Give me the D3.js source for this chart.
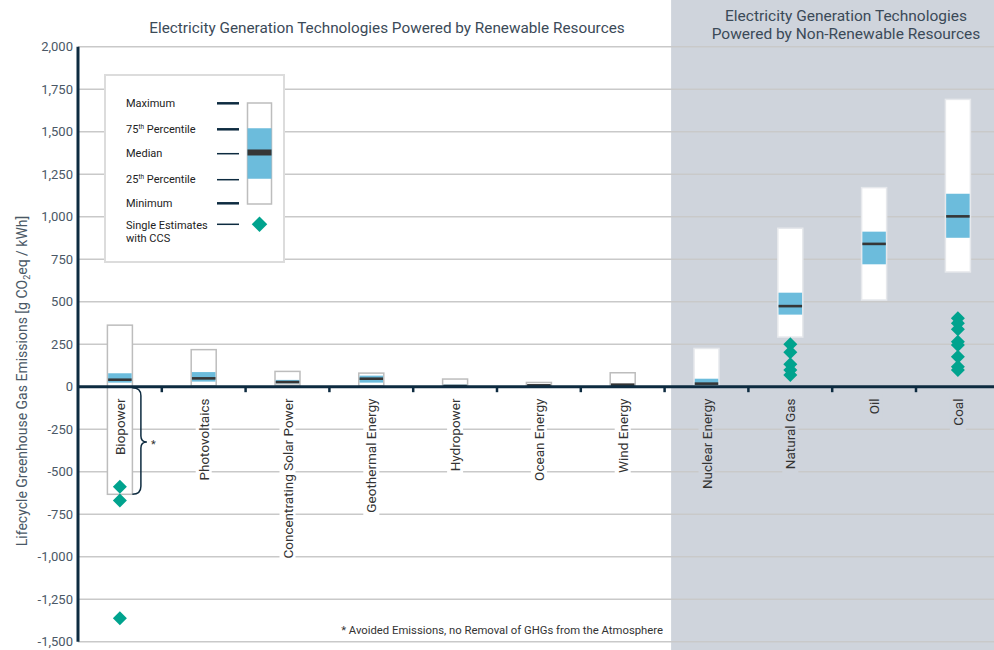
<!DOCTYPE html>
<html>
<head>
<meta charset="utf-8">
<script src="https://cdn.jsdelivr.net/npm/d3@7"></script>
<style>
  html, body { margin: 0; padding: 0; background: #fff; }
  svg { display: block; font-family: Roboto, "Open Sans", sans-serif; }
</style>
</head>
<body>
<svg id="chart" width="994" height="650"></svg>
<script>
// ---------- DATA ----------
const categories = ["Biopower", "Photovoltaics", "Concentrating Solar Power", "Geothermal Energy",
  "Hydropower", "Ocean Energy", "Wind Energy", "Nuclear Energy", "Natural Gas", "Oil", "Coal"];
const renewable = [true, true, true, true, true, true, true, false, false, false, false];
const maximum  = [362, 218, 90, 80, 45, 25, 82, 225, 932, 1171, 1690];
const pct75    = [79, 86, 40, 65, 12, 10, 12, 47, 553, 912, 1135];
const median   = [41, 49, 27, 47, 4, 8, 12, 18, 474, 840, 1002];
const pct25    = [24, 30, 20, 24, 3, 6, 8, 8, 424, 720, 876];
const minimum  = [-633, 5, 9, 6, 0, 2, 2, 1, 292, 510, 675];
const ccsCategories = ["Biopower", "Natural Gas", "Coal"];
const ccsEstimates = [
  [-588, -670, -1362],
  [249, 202, 132, 98, 69],
  [402, 373, 338, 265, 245, 176, 118, 98]
];
const yTicks = [-1500, -1250, -1000, -750, -500, -250, 0, 250, 500, 750, 1000, 1250, 1500, 1750, 2000];
const legendLabels = ["Maximum", "75th Percentile", "Median", "25th Percentile", "Minimum"];
const titleRenewable = "Electricity Generation Technologies Powered by Renewable Resources";
const titleNonRenewable = ["Electricity Generation Technologies", "Powered by Non-Renewable Resources"];
const footnote = "* Avoided Emissions, no Removal of GHGs from the Atmosphere";

// ---------- STYLE ----------
const navy = "#0d2b40";
const blue = "#6cbcdc";
const teal = "#00a38e";
const medianCol = "#363636";
const panelCol = "#cfd4dc";
const gridCol = "#c9c9c9";
const textCol = "#4a5866";

const svg = d3.select("#chart");
const W = 994, H = 650;

const y = d3.scaleLinear().domain([-1500, 2000]).range([641.7, 46.7]);
const x = d3.scaleBand().domain(categories).range([78, 999.8]).padding(0);
const barW = 25;

// gray panel for non-renewable
const firstNR = categories[renewable.indexOf(false)];
svg.append("rect")
  .attr("x", x(firstNR) + 6.5).attr("y", 0)
  .attr("width", W - x(firstNR) - 6.5).attr("height", H)
  .attr("fill", panelCol);

// gridlines
svg.append("g").selectAll("line").data(yTicks.filter(d => d !== 0)).join("line")
  .attr("x1", 78).attr("x2", W)
  .attr("y1", d => y(d)).attr("y2", d => y(d))
  .attr("stroke", gridCol).attr("stroke-width", 1.6);

// titles
svg.append("text").attr("x", 387).attr("y", 33).attr("text-anchor", "middle")
  .attr("font-size", 15.3).attr("fill", "#3b4a58")
  .text(titleRenewable);
svg.append("g").selectAll("text").data(titleNonRenewable).join("text")
  .attr("x", 846).attr("y", (d, i) => 20.5 + i * 18.5).attr("text-anchor", "middle")
  .attr("font-size", 15.5).attr("fill", "#3b4a58")
  .text(d => d);

// legend box
const lg = svg.append("g");
lg.append("rect").attr("x", 105).attr("y", 75).attr("width", 179).attr("height", 187)
  .attr("fill", "#fff").attr("stroke", "#dcdcdc").attr("stroke-width", 2);
const legY = [103.3, 129.3, 153.7, 179.7, 203.3];
const legThick = [2.5, 2.5, 1.5, 1.5, 2.5];
legendLabels.forEach((lab, i) => {
  const t = lg.append("text").attr("x", 126).attr("y", legY[i] + 3.5)
    .attr("font-size", 11).attr("fill", "#222");
  const m = lab.match(/^(\d+)(th)(.*)$/);
  if (m) {
    t.append("tspan").text(m[1]);
    t.append("tspan").attr("font-size", 6.5).attr("dy", -4).text(m[2]);
    t.append("tspan").attr("dy", 4).text(m[3]);
  } else t.text(lab);
  lg.append("line").attr("x1", 217).attr("x2", 239).attr("y1", legY[i]).attr("y2", legY[i])
    .attr("stroke", navy).attr("stroke-width", legThick[i]);
});
lg.append("text").attr("x", 126).attr("y", 228.5).attr("font-size", 11).attr("fill", "#222").text("Single Estimates");
lg.append("text").attr("x", 126).attr("y", 242).attr("font-size", 11).attr("fill", "#222").text("with CCS");
lg.append("line").attr("x1", 217).attr("x2", 239).attr("y1", 224.3).attr("y2", 224.3)
  .attr("stroke", navy).attr("stroke-width", 1.5);
// legend sample box via its own scale
const ly = d3.scaleLinear().domain([0, 100]).range([204, 103]);
const sample = {max: 100, q3: 75, med: 51, q1: 25, min: 0};
lg.append("rect").attr("x", 247.5).attr("width", 24).attr("y", ly(sample.max))
  .attr("height", ly(sample.min) - ly(sample.max))
  .attr("fill", "#fff").attr("stroke", "#bdbdbd").attr("stroke-width", 1.5);
lg.append("rect").attr("x", 247.5).attr("width", 24).attr("y", ly(sample.q3))
  .attr("height", ly(sample.q1) - ly(sample.q3)).attr("fill", blue);
lg.append("rect").attr("x", 247.5).attr("width", 24).attr("y", ly(sample.med) - 3)
  .attr("height", 6).attr("fill", medianCol);
lg.append("path").attr("d", d3.symbol(d3.symbolSquare, 120)())
  .attr("transform", "translate(259.5,224.3) rotate(45)").attr("fill", teal);

// boxes
const rows = categories.map((c, i) => ({
  c, ren: renewable[i], max: maximum[i], q3: pct75[i], med: median[i], q1: pct25[i], min: minimum[i]
}));
const bx = d => x(d.c) + x.bandwidth() / 2 - barW / 2;
const bg = svg.append("g");
bg.selectAll("rect.range").data(rows).join("rect").attr("class", "range")
  .attr("x", bx).attr("width", barW)
  .attr("y", d => y(d.max)).attr("height", d => y(d.min) - y(d.max))
  .attr("fill", "#fff");

// category labels with background
const labG = svg.append("g");
rows.forEach(d => {
  const cx = x(d.c) + x.bandwidth() / 2 + 5;
  const g = labG.append("g").attr("transform", `translate(${cx},398.5) rotate(-90)`);
  const bgR = g.append("rect");
  const t = g.append("text").attr("text-anchor", "end").attr("font-size", 13.5)
    .attr("fill", "#333").text(d.c);
  const bb = t.node().getBBox();
  bgR.attr("x", bb.x - 5).attr("y", bb.y).attr("width", bb.width + 10).attr("height", bb.height)
    .attr("fill", d.ren ? "#fff" : panelCol);
});

// box outlines, IQR and medians on top
const og = svg.append("g");
og.selectAll("rect").data(rows).join("rect")
  .attr("x", bx).attr("width", barW)
  .attr("y", d => y(d.max)).attr("height", d => y(d.min) - y(d.max))
  .attr("fill", "none")
  .attr("stroke", d => d.ren ? "#bdbdbd" : "#e6e8ec").attr("stroke-width", 1.5);
og.selectAll("rect.iqr").data(rows).join("rect").attr("class", "iqr")
  .attr("x", d => bx(d) + 0.75).attr("width", barW - 1.5)
  .attr("y", d => y(d.q3)).attr("height", d => Math.max(0, y(d.q1) - y(d.q3)))
  .attr("fill", blue);
og.selectAll("line.med").data(rows).join("line").attr("class", "med")
  .attr("x1", d => bx(d) + 0.75).attr("x2", d => bx(d) + barW - 0.75)
  .attr("y1", d => y(d.med)).attr("y2", d => y(d.med))
  .attr("stroke", medianCol).attr("stroke-width", 2.6);

// x axis (zero line) + ticks at band boundaries
svg.append("line").attr("x1", 78).attr("x2", W).attr("y1", y(0)).attr("y2", y(0))
  .attr("stroke", navy).attr("stroke-width", 3);
svg.append("g").selectAll("line").data(categories.slice(1)).join("line")
  .attr("x1", d => x(d)).attr("x2", d => x(d))
  .attr("y1", y(0)).attr("y2", y(0) + 5.5)
  .attr("stroke", navy).attr("stroke-width", 2.5);

// y axis
svg.append("line").attr("x1", 78).attr("x2", 78).attr("y1", y(2000)).attr("y2", y(-1500))
  .attr("stroke", navy).attr("stroke-width", 3);
svg.append("g").selectAll("text").data(yTicks).join("text")
  .attr("x", 73).attr("y", d => y(d) + 4.5).attr("text-anchor", "end")
  .attr("font-size", 13).attr("fill", textCol)
  .text(d => d3.format(",")(d).replace("−", "-"));

// y title
const yt = svg.append("text").attr("transform", "translate(27,381) rotate(-90)")
  .attr("text-anchor", "middle").attr("font-size", 14).attr("fill", textCol);
yt.append("tspan").text("Lifecycle Greenhouse Gas Emissions [g CO");
yt.append("tspan").attr("font-size", 9).attr("dy", 3).text("2");
yt.append("tspan").attr("dy", -3).text("eq / kWh]");

// CCS diamonds
const dg = svg.append("g");
ccsCategories.forEach((c, i) => {
  dg.selectAll(null).data(ccsEstimates[i]).join("path")
    .attr("d", d3.symbol(d3.symbolSquare, 98)())
    .attr("transform", v => `translate(${x(c) + x.bandwidth() / 2},${y(v)}) rotate(45)`)
    .attr("fill", teal);
});

// brace for biopower avoided emissions
const bio = rows[0];
const bxR = bx(bio) + barW;
const top0 = y(0) + 1, bot = y(bio.min), mid = (top0 + bot) / 2 + 1;
const braceX = bxR + 8.5;
svg.append("path")
  .attr("d", `M${bxR},${top0} Q${braceX},${top0} ${braceX},${top0 + 8}
              L${braceX},${mid - 6} Q${braceX},${mid} ${braceX + 6},${mid}
              Q${braceX},${mid} ${braceX},${mid + 6}
              L${braceX},${bot - 8} Q${braceX},${bot} ${bxR},${bot}`)
  .attr("fill", "none").attr("stroke", navy).attr("stroke-width", 1.5);
svg.append("text").attr("x", braceX + 10).attr("y", mid + 6).attr("font-size", 11)
  .attr("fill", "#333").text("*");

// footnote
svg.append("text").attr("x", 663).attr("y", 634).attr("text-anchor", "end")
  .attr("font-size", 11.3).attr("fill", "#333").text(footnote);
</script>
</body>
</html>
